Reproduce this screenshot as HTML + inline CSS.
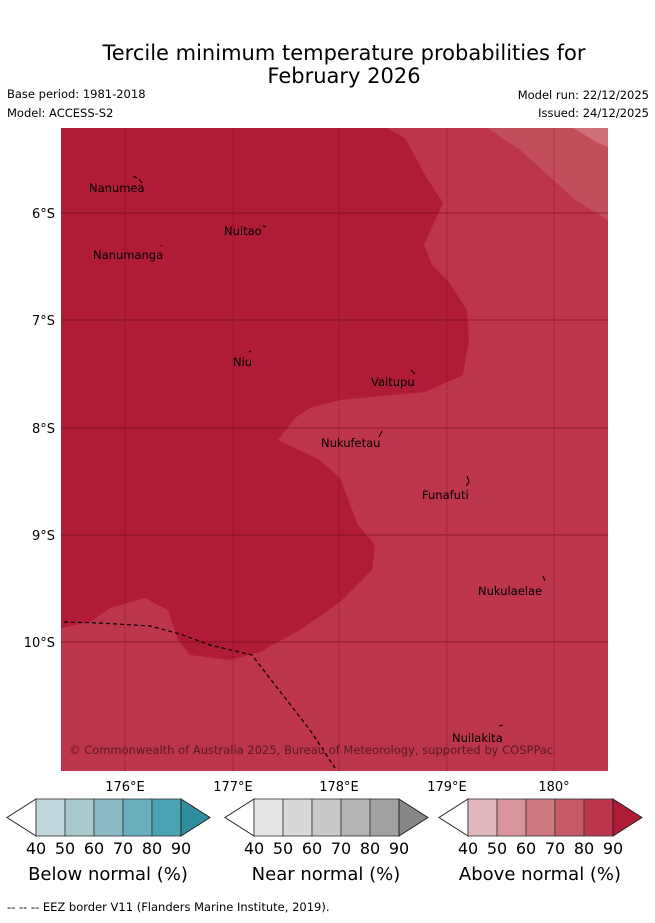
<!DOCTYPE html>
<html><head><meta charset="utf-8"><style>
body{margin:0;background:#fff;width:655px;height:919px;overflow:hidden;font-family:"DejaVu Sans",sans-serif}
</style></head><body>
<svg width="655" height="919" xmlns="http://www.w3.org/2000/svg" font-family="DejaVu Sans, sans-serif">
<text x="344" y="60" font-size="21" text-anchor="middle">Tercile minimum temperature probabilities for</text>
<text x="344" y="83" font-size="21" text-anchor="middle">February 2026</text>
<text x="7" y="98" font-size="11.5">Base period: 1981-2018</text>
<text x="7" y="117" font-size="11.5">Model: ACCESS-S2</text>
<text x="649" y="99" font-size="11.5" text-anchor="end">Model run: 22/12/2025</text>
<text x="649" y="117" font-size="11.5" text-anchor="end">Issued: 24/12/2025</text>
<defs><clipPath id="mc"><rect x="61" y="128" width="547" height="643"/></clipPath></defs>
<g clip-path="url(#mc)">
<rect x="61" y="128" width="547" height="643" fill="#bd344d"/>
<polygon fill="#c24d5b" points="487,128 520,150 548,175 575,200 608,220 608,128"/>
<polygon fill="#cf6f7a" points="573,128 598,143 608,147 608,128"/>
<polygon fill="#b01c37" points="61,128 387,128 405,138 425,175 443,203 424,245 432,265 449,282 467,310 469,340 463,375 425,392 340,400 310,408 295,418 278,440 320,460 340,478 358,525 375,545 372,570 340,602 300,630 260,652 230,660 190,655 178,640 168,610 145,598 110,608 90,622 61,628"/>
<g stroke="#6a0a1e" stroke-width="1" opacity="0.6">
<line x1="125" y1="128" x2="125" y2="771" stroke-dasharray="1,1"/>
<line x1="233" y1="128" x2="233" y2="771" stroke-dasharray="1,1"/>
<line x1="339" y1="128" x2="339" y2="771" stroke-dasharray="1,1"/>
<line x1="447" y1="128" x2="447" y2="771" stroke-dasharray="1,1"/>
<line x1="554" y1="128" x2="554" y2="771" stroke-dasharray="1,1"/>
<line x1="61" y1="213" x2="608" y2="213"/>
<line x1="61" y1="320" x2="608" y2="320"/>
<line x1="61" y1="428" x2="608" y2="428"/>
<line x1="61" y1="535" x2="608" y2="535"/>
<line x1="61" y1="642" x2="608" y2="642"/>
</g>
<polyline fill="none" stroke="#000" stroke-width="1.2" stroke-dasharray="4,3" points="64,622 100,623 150,626 180,634 210,645 252,655 275,685 310,730 335,768"/>
<g font-size="11.5" fill="#000">
<text x="89" y="192">Nanumea</text><path d="M133,176 l4,2 M139,179 l3,4" stroke="#000"/>
<text x="224" y="235">Nuitao</text><path d="M263,226 l3,1" stroke="#000"/>
<text x="93" y="259">Nanumanga</text><path d="M161,246 l1,-1" stroke="#000"/>
<text x="233" y="366">Niu</text><path d="M249,352 l2,-1" stroke="#000"/>
<text x="371" y="386">Vaitupu</text><path d="M411,370 l4,4" stroke="#000"/>
<text x="321" y="447">Nukufetau</text><path d="M379,437 l3,-6" stroke="#000"/>
<text x="422" y="499">Funafuti</text><path d="M467,476 l2,6 l-3,4" stroke="#000" fill="none"/>
<text x="478" y="595">Nukulaelae</text><path d="M543,576 l2,5" stroke="#000"/>
<text x="452" y="742">Nuilakita</text><path d="M499,726 l4,-1" stroke="#000"/>
</g>
<text x="69" y="754" font-size="11.5" fill="#5a1a24">© Commonwealth of Australia 2025, Bureau of Meteorology, supported by COSPPac</text>
</g>
<g font-size="13">
<text x="55" y="218" text-anchor="end">6°S</text>
<text x="55" y="325" text-anchor="end">7°S</text>
<text x="55" y="433" text-anchor="end">8°S</text>
<text x="55" y="540" text-anchor="end">9°S</text>
<text x="55" y="647" text-anchor="end">10°S</text>
</g>
<g font-size="13" text-anchor="middle">
<text x="125" y="791">176°E</text><text x="233" y="791">177°E</text><text x="339" y="791">178°E</text><text x="447" y="791">179°E</text><text x="554" y="791">180°</text>
</g>
<script>
const bars=[{x:36,cols:["#c0d6dc","#a9c8cc","#8ab8c3","#6aafbd","#4aa3b2"],tip:"#2f8fa0",label:"Below normal (%)",name:"below-normal"},
{x:254,cols:["#e5e5e5","#d8d8d8","#c9c9c9","#b5b5b5","#a1a1a1"],tip:"#878787",label:"Near normal (%)",name:"near-normal"},
{x:468,cols:["#e2b8be","#d8959c","#ce7880","#c65a67","#bd344d"],tip:"#b01c37",label:"Above normal (%)",name:"above-normal"}];
const ticks=["40","50","60","70","80","90"];
const svg=document.querySelector('svg');const NS="http://www.w3.org/2000/svg";
function mk(t,a,p){const e=document.createElementNS(NS,t);for(const k in a)e.setAttribute(k,a[k]);(p||svg).appendChild(e);return e;}
bars.forEach(b=>{
const g=mk('g',{});


const y0=799,y1=836,ym=817.5,w=29;
mk('polygon',{points:`${b.x},${y0} ${b.x-29},${ym} ${b.x},${y1}`,fill:'#fff',stroke:'#222','stroke-width':1},g);
b.cols.forEach((c,i)=>mk('rect',{x:b.x+i*w,y:y0,width:w,height:y1-y0,fill:c,stroke:'#333','stroke-width':0.8},g));
const xe=b.x+5*w;
mk('polygon',{points:`${xe},${y0} ${xe+29},${ym} ${xe},${y1}`,fill:b.tip,stroke:'#222','stroke-width':1},g);
ticks.forEach((t,i)=>{const e=mk('text',{x:b.x+i*w,y:854,'font-size':16,'text-anchor':'middle'},g);e.textContent=t;});
const l=mk('text',{x:b.x+72,y:880,'font-size':18,'text-anchor':'middle'},g);l.textContent=b.label;
});
</script>
<text x="7" y="911" font-size="11.5">-- -- -- EEZ border V11 (Flanders Marine Institute, 2019).</text>
</svg>
</body></html>
